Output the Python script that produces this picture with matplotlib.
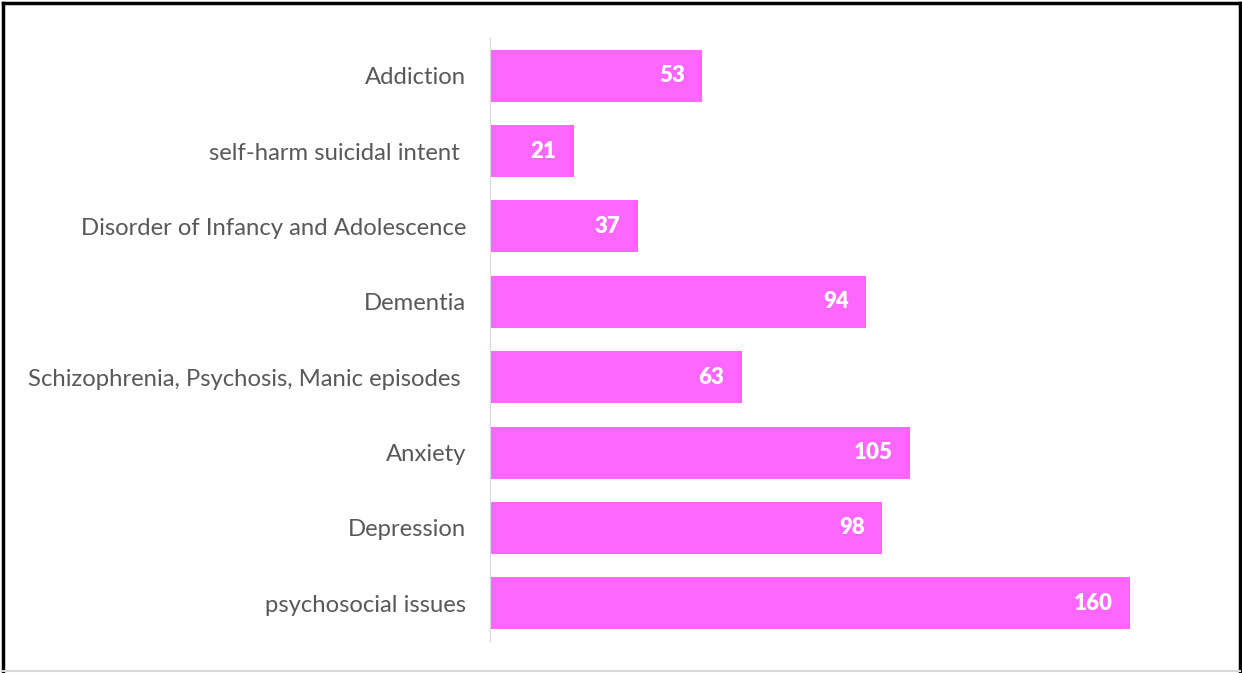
import matplotlib.pyplot as plt
from matplotlib.lines import Line2D

categories = ["psychosocial issues", "Depression", "Anxiety",
              "Schizophrenia, Psychosis, Manic episodes ", "Dementia",
              "Disorder of Infancy and Adolescence", "self-harm suicidal intent ",
              "Addiction"]
counts = [160, 98, 105, 63, 94, 37, 21, 53]

plt.rcParams['font.family'] = ['Lato', 'DejaVu Sans']

fig = plt.figure(figsize=(12.42, 6.73), dpi=100)
ax = fig.add_axes([0.3945, 0.0475, 0.56, 0.896])

bars = ax.barh(range(len(categories)), counts, height=0.69, color="#FF66FF")
for bar, v in zip(bars, counts):
    ax.text(bar.get_width() - 4.3, bar.get_y() + bar.get_height() / 2, str(v),
            ha="right", va="center", color="white", fontsize=16, fontweight="heavy")

ax.set_yticks(range(len(categories)))
ax.set_yticklabels(categories, fontsize=17.2, color="#595959")
ax.set_ylim(-0.5, 7.5)
ax.set_xlim(0, 174)
ax.set_xticks([])
ax.tick_params(axis="y", length=0, pad=17)
for s in ["top", "right", "bottom"]:
    ax.spines[s].set_visible(False)
ax.spines["left"].set_color("#D9D9D9")

# outer frame
fig.add_artist(Line2D([0.0025, 0.0025], [0.002, 0.996], transform=fig.transFigure, color="black", lw=2.5))
fig.add_artist(Line2D([0.9985, 0.9985], [0.002, 0.996], transform=fig.transFigure, color="black", lw=2.5))
fig.add_artist(Line2D([0.0025, 0.9985], [0.996, 0.996], transform=fig.transFigure, color="black", lw=2.5))
fig.add_artist(Line2D([0.0025, 0.9985], [0.003, 0.003], transform=fig.transFigure, color="#D9D9D9", lw=1.5))

fig.savefig("out.png", dpi=100)
